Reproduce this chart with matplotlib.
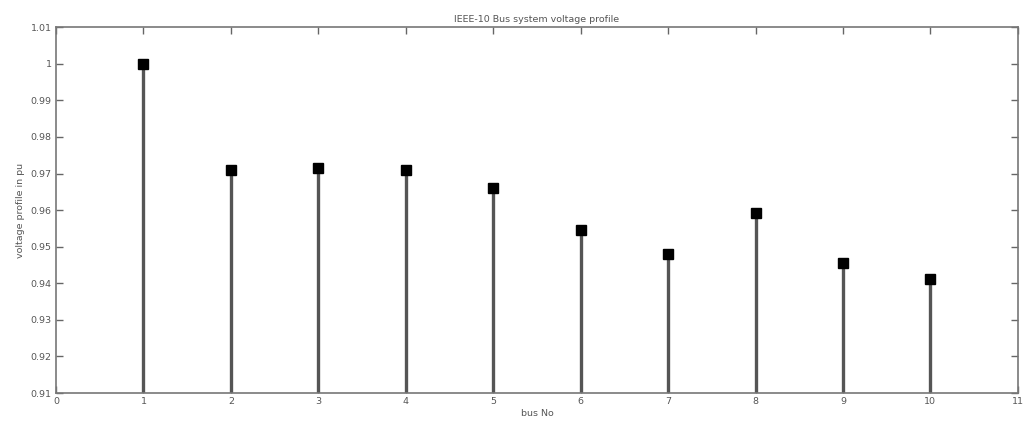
import matplotlib
matplotlib.use("Agg")
import matplotlib.pyplot as plt

bus = [1, 2, 3, 4, 5, 6, 7, 8, 9, 10]
voltage = [1.000, 0.9709, 0.9714, 0.9710, 0.9660, 0.9545, 0.9479, 0.9591, 0.9455, 0.9411]
xticks = list(range(0, 12))
yticks = [0.91, 0.92, 0.93, 0.94, 0.95, 0.96, 0.97, 0.98, 0.99, 1.00, 1.01]
ytick_labels = ["0.91", "0.92", "0.93", "0.94", "0.95", "0.96", "0.97", "0.98", "0.99", "1", "1.01"]

fig = plt.figure(figsize=(10.24, 4.24), dpi=100)
ax = fig.add_axes([0.0547, 0.073, 0.9393, 0.863])
ax.set_xlim(0, 11)
ax.set_ylim(0.91, 1.01)
ax.vlines(bus, 0.91, voltage, colors="#555555", linewidth=2.4, zorder=2)
ax.plot(bus, voltage, linestyle="none", marker="s", markersize=6.8, color="black", zorder=3)

ax.set_xticks(xticks)
ax.set_xticklabels([str(t) for t in xticks])
ax.set_yticks(yticks)
ax.set_yticklabels(ytick_labels)
ax.tick_params(direction="in", length=5, width=1, colors="#666666", labelcolor="#555555",
               labelsize=6.8, top=True, right=True, pad=3)
for s in ax.spines.values():
    s.set_color("#777777")
    s.set_linewidth(1.2)
ax.set_title("IEEE-10 Bus system voltage profile", fontsize=6.8, color="#555555", pad=4)
ax.set_xlabel("bus No", fontsize=6.8, color="#555555", labelpad=2)
ax.set_ylabel("voltage profile in pu", fontsize=6.8, color="#555555", labelpad=4)
fig.savefig("out.png", dpi=100, facecolor="white")
